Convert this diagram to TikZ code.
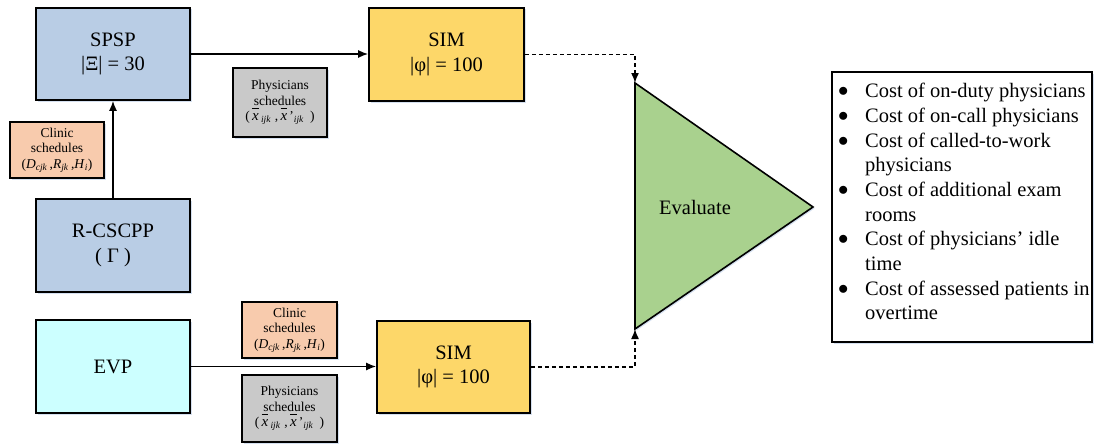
\documentclass[tikz,border=0pt]{standalone}
\usepackage{fontspec}
\setmainfont{Liberation Serif}
\usetikzlibrary{arrows.meta,shadows}
\definecolor{cblue}{HTML}{B9CDE5}
\definecolor{corange}{HTML}{F8CBAD}
\definecolor{cgray}{HTML}{C9C9C9}
\definecolor{cyellow}{HTML}{FDD769}
\definecolor{cgreen}{HTML}{A9D18E}
\definecolor{ccyan}{HTML}{CCFFFF}
\definecolor{cshadow}{HTML}{D5E0F0}
\newcommand{\ti}[1]{\textit{#1}}
\newcommand{\sub}[1]{\textsubscript{\textit{#1}}}
\newcommand{\xbar}{\smash{$\overline{\vphantom{(}\hbox{\fontsize{15}{15}\selectfont\textit{x}}}$}}
\newcommand{\clinictext}{Clinic\\schedules\\(\ti{D}\sub{cjk}\,,\ti{R}\sub{jk}\,,\ti{H}\sub{i})}
\newcommand{\physictext}{Physicians\\schedules\\(\,\xbar\,\sub{ijk}\;,\,\xbar\,'\sub{ijk}\;\,)}
\newcommand{\bul}{\makebox[27pt][l]{\raisebox{1pt}{$\bullet$}}}
\begin{document}
\begin{tikzpicture}[x=1pt,y=-1pt,
  shad/.style={drop shadow={fill=cshadow,opacity=1,shadow xshift=1.5pt,shadow yshift=-1.5pt}},
  bigbox/.style={draw=black,line width=1.6pt,inner sep=0pt,align=center,shad,
    font=\fontsize{20.5}{24.5}\selectfont},
  smallbox/.style={draw=black,line width=1.6pt,inner sep=0pt,align=center,shad,
    font=\fontsize{13.5}{15.5}\selectfont},
  arr/.style={line width=1.6pt,-{Latex[length=10pt,width=8pt]}},
  darr/.style={line width=1.5pt,dash pattern=on 4pt off 3pt,-{Latex[length=10pt,width=8pt]}}]
\useasboundingbox (0,0) rectangle (1094,444);
% main boxes
\node[bigbox,fill=cblue,minimum width=154pt,minimum height=92pt] (spsp) at (113,54) {SPSP\\|Ξ| = 30};
\node[bigbox,fill=cblue,minimum width=154pt,minimum height=93pt] (rcs) at (113,245.5) {R-CSCPP\\( Γ )};
\node[bigbox,fill=ccyan,minimum width=154pt,minimum height=93pt] (evp) at (113,366.5) {EVP};
\node[bigbox,fill=cyellow,minimum width=155pt,minimum height=93pt] (sim1) at (446.5,54.5) {SIM\\|φ| = 100};
\node[bigbox,fill=cyellow,minimum width=153pt,minimum height=92pt] (sim2) at (453.5,367) {SIM\\|φ| = 100};
% small boxes
\node[smallbox,fill=corange,minimum width=94pt,minimum height=56pt] (clin1) at (57,150) {\clinictext};
\node[smallbox,fill=cgray,minimum width=94pt,minimum height=69pt] (phys1) at (280,102.5) {\physictext};
\node[smallbox,fill=corange,minimum width=95pt,minimum height=56pt] (clin2) at (289.5,330) {\clinictext};
\node[smallbox,fill=cgray,minimum width=95pt,minimum height=67pt] (phys2) at (289.5,408.5) {\physictext};
% triangle
\coordinate (t1) at (635,83);
\coordinate (t2) at (635,329);
\coordinate (t3) at (813,207);
\filldraw[fill=cgreen,draw=black,line width=1.6pt,line join=miter,shad] (t1) -- (t3) -- (t2) -- cycle;
\node[font=\fontsize{20.5}{24.5}\selectfont] (eval) at (695,207) {Evaluate};
% list box
\node[draw=black,line width=1.6pt,fill=white,shad,minimum width=260pt,minimum height=270pt,inner sep=0pt] (list) at (962,207) {};
\node[anchor=north west,align=left,inner sep=0pt,font=\fontsize{20.5}{24.7}\selectfont] (items) at (838,83)
  {\bul Cost of on-duty physicians\\
   \bul Cost of on-call physicians\\
   \bul Cost of called-to-work\\
   \hspace*{27pt}physicians\\
   \bul Cost of additional exam\\
   \hspace*{27pt}rooms\\
   \bul Cost of physicians’ idle\\
   \hspace*{27pt}time\\
   \bul Cost of assessed patients in\\
   \hspace*{27pt}overtime};
% connectors
\draw[arr] (rcs.north) -- (spsp.south);
\draw[arr] (spsp.east) -- (sim1.west |- spsp.east);
\draw[arr] (evp.east) -- (sim2.west |- evp.east);
\draw[darr] (sim1.east) -| (t1);
\draw[darr] (sim2.east) -| (t2);
\end{tikzpicture}
\end{document}
